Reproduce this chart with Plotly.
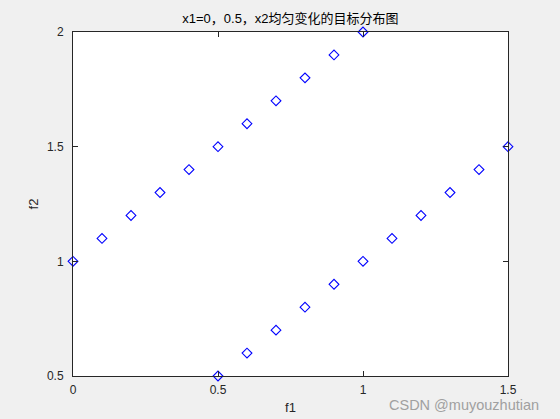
import plotly.graph_objects as go

# series 1: x1 = 0
f1_a = [0, 0.1, 0.2, 0.3, 0.4, 0.5, 0.6, 0.7, 0.8, 0.9, 1.0]
f2_a = [1.0, 1.1, 1.2, 1.3, 1.4, 1.5, 1.6, 1.7, 1.8, 1.9, 2.0]
# series 2: x1 = 0.5
f1_b = [0.5, 0.6, 0.7, 0.8, 0.9, 1.0, 1.1, 1.2, 1.3, 1.4, 1.5]
f2_b = [0.5, 0.6, 0.7, 0.8, 0.9, 1.0, 1.1, 1.2, 1.3, 1.4, 1.5]

x_ticks = [0, 0.5, 1, 1.5]
y_ticks = [0.5, 1, 1.5, 2]

font_family = "Liberation Sans, Arial, Noto Sans CJK SC, sans-serif"

fig = go.Figure()
for fx, fy in [(f1_a, f2_a), (f1_b, f2_b)]:
    fig.add_trace(go.Scatter(
        x=fx, y=fy, mode="markers", cliponaxis=False, showlegend=False,
        marker=dict(symbol="diamond-open", size=7.5, color="#0000ff",
                    line=dict(width=1.1, color="#0000ff")),
    ))

axis_common = dict(
    showgrid=False, zeroline=False, showline=True, linecolor="#262626", linewidth=1,
    mirror="ticks", ticks="inside", ticklen=5, tickcolor="#262626", tickwidth=1,
    tickfont=dict(family=font_family, size=12, color="#262626"), automargin=False,
)

fig.update_layout(
    width=560, height=419,
    margin=dict(l=73, r=52, t=32, b=43),
    paper_bgcolor="#f0f0f0", plot_bgcolor="#ffffff",
    font=dict(family=font_family, color="#262626"),
    title=dict(text="x1=0，0.5，x2均匀变化的目标分布图", x=0.5186, xanchor="center",
               y=0.957, yanchor="middle", automargin=False,
               font=dict(family=font_family, size=13, color="#000000")),
    xaxis=dict(range=[0, 1.5], tickvals=x_ticks, ticktext=["0", "0.5", "1", "1.5"],
               ticklabelstandoff=3,
               title=dict(text="f1", font=dict(size=13, color="#262626"), standoff=6),
               **axis_common),
    yaxis=dict(range=[0.5, 2], tickvals=y_ticks, ticktext=["0.5", "1", "1.5", "2"],
               ticklabelstandoff=6,
               title=dict(text="f2", font=dict(size=13, color="#262626"), standoff=5),
               **axis_common),
    annotations=[dict(text="CSDN @muyouzhutian", xref="paper", yref="paper",
                      x=1.076, y=-0.085, xanchor="right", yanchor="middle",
                      showarrow=False,
                      font=dict(family=font_family, size=14.5, color="#a0a0a0"))],
)

fig.write_html("out.html", config={"displayModeBar": False},
               post_script="document.body.style.margin='0';document.body.style.background='#f0f0f0';")
